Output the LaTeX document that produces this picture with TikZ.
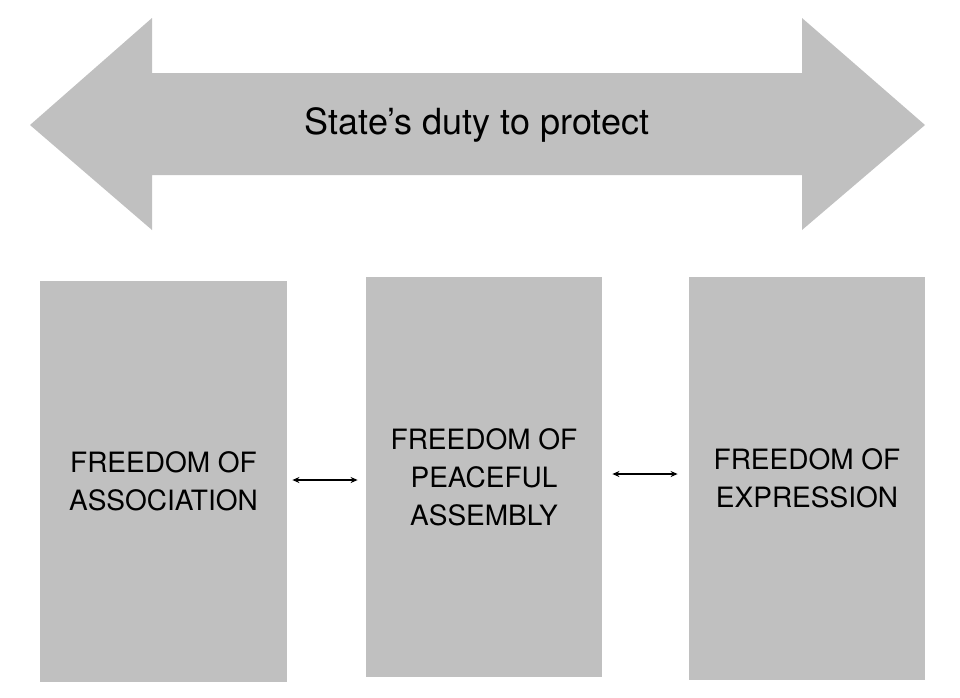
\documentclass[tikz,border=0pt]{standalone}
\usepackage{fontspec}
\setmainfont{TeX Gyre Heros}
\usetikzlibrary{arrows.meta}

\begin{document}
\begin{tikzpicture}[x=1pt,y=-1pt,thick]
\tikzstyle{box}=[fill=boxgray,draw=none,inner sep=0pt,align=center,font=\fontsize{28}{38}\selectfont]
\tikzstyle{link}=[{Stealth[length=7pt,width=6pt]}-{Stealth[length=7pt,width=6pt]},line width=1.2pt]
\definecolor{boxgray}{HTML}{C0C0C0}
\useasboundingbox (0,0) rectangle (960,697);
% big double arrow
\fill[boxgray] (30,125) -- (152,18) -- (152,73) -- (802,73) -- (802,18)
  -- (925,125) -- (802,230) -- (802,175) -- (152,175) -- (152,230) -- cycle;
\node[font=\fontsize{36}{40}\selectfont] (duty) at (477,125) {State’s duty to protect};
% the three freedoms
\node[box, minimum width=247, minimum height=401] (assoc)  at (163.5,481.5) {FREEDOM OF\\ASSOCIATION};
\node[box, minimum width=236, minimum height=400] (peace)  at (484,477)     {FREEDOM OF\\PEACEFUL\\ASSEMBLY};
\node[box, minimum width=236, minimum height=403] (expr)   at (807,478.5)   {FREEDOM OF\\EXPRESSION};
\draw[link] ([xshift=5pt,yshift=1.5pt]assoc.east) -- ([xshift=-8pt,yshift=1.5pt]assoc.east -| peace.west);
\draw[link] ([xshift=10pt,yshift=3pt]peace.east) -- ([xshift=-11pt,yshift=3pt]peace.east -| expr.west);
\end{tikzpicture}
\end{document}
